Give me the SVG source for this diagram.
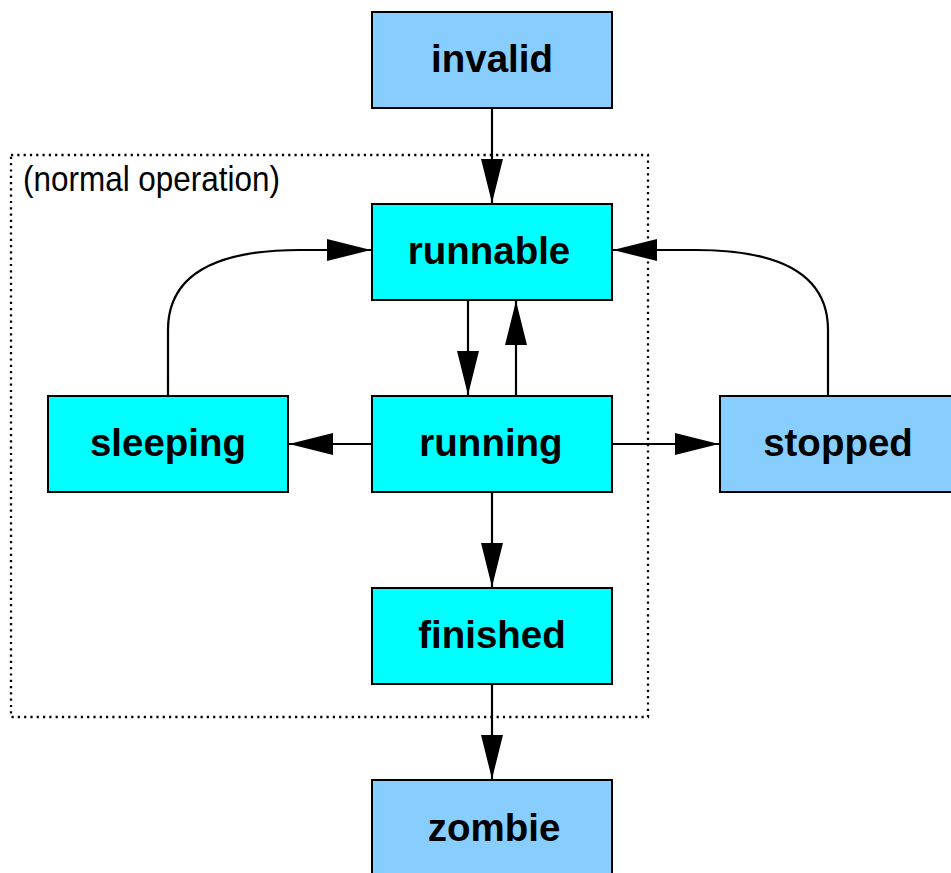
<svg xmlns="http://www.w3.org/2000/svg" width="951" height="873" viewBox="0 0 951 873">
<style>
.box{stroke:#000;stroke-width:2}
.a{fill:#00ffff}
.b{fill:#87ceff}
.lbl{font-family:"Liberation Sans",Arial,sans-serif;font-weight:bold;font-size:38.5px;text-anchor:middle;fill:#000}
.edge{fill:none;stroke:#000;stroke-width:2.2}
</style>
<defs>
<marker id="arr" markerUnits="userSpaceOnUse" markerWidth="46" markerHeight="24" refX="44" refY="11" orient="auto" viewBox="0 0 46 24">
<path d="M0,0 L44,11 L0,22 z" fill="#000"/>
</marker>
</defs>
<rect x="11" y="155" width="637" height="562" fill="none" stroke="#000" stroke-width="2.3" stroke-dasharray="2.2,4.1"/>
<text x="23" y="191" font-family="'Liberation Sans',Arial,sans-serif" font-size="35" textLength="257" lengthAdjust="spacingAndGlyphs" fill="#000">(normal operation)</text>
<g id="connectors">
<path class="edge" d="M492,108 V203" marker-end="url(#arr)"/>
<path class="edge" d="M468,300 V395" marker-end="url(#arr)"/>
<path class="edge" d="M516,396 V301" marker-end="url(#arr)"/>
<path class="edge" d="M372,444 H289" marker-end="url(#arr)"/>
<path class="edge" d="M612,444 H719" marker-end="url(#arr)"/>
<path class="edge" d="M492,492 V587" marker-end="url(#arr)"/>
<path class="edge" d="M492,684 V779" marker-end="url(#arr)"/>
<path class="edge" d="M168,396 V330 C168,275 215,250 300,250 H371" marker-end="url(#arr)"/>
<path class="edge" d="M828,396 V330 C828,275 781,250 696,250 H613" marker-end="url(#arr)"/>
</g>
<g id="invalid"><rect class="box b" x="372" y="12" width="240" height="96"/><text class="lbl" x="492" y="72">invalid</text></g>
<g id="runnable"><rect class="box a" x="372" y="204" width="240" height="96"/><text class="lbl" x="489" y="264">runnable</text></g>
<g id="sleeping"><rect class="box a" x="48" y="396" width="240" height="96"/><text class="lbl" x="168" y="456">sleeping</text></g>
<g id="running"><rect class="box a" x="372" y="396" width="240" height="96"/><text class="lbl" x="491" y="456">running</text></g>
<g id="stopped"><rect class="box b" x="720" y="396" width="240" height="96"/><text class="lbl" x="838" y="456">stopped</text></g>
<g id="finished"><rect class="box a" x="372" y="588" width="240" height="96"/><text class="lbl" x="492" y="648">finished</text></g>
<g id="zombie"><rect class="box b" x="372" y="780" width="240" height="96"/><text class="lbl" x="494" y="841">zombie</text></g>
</svg>
